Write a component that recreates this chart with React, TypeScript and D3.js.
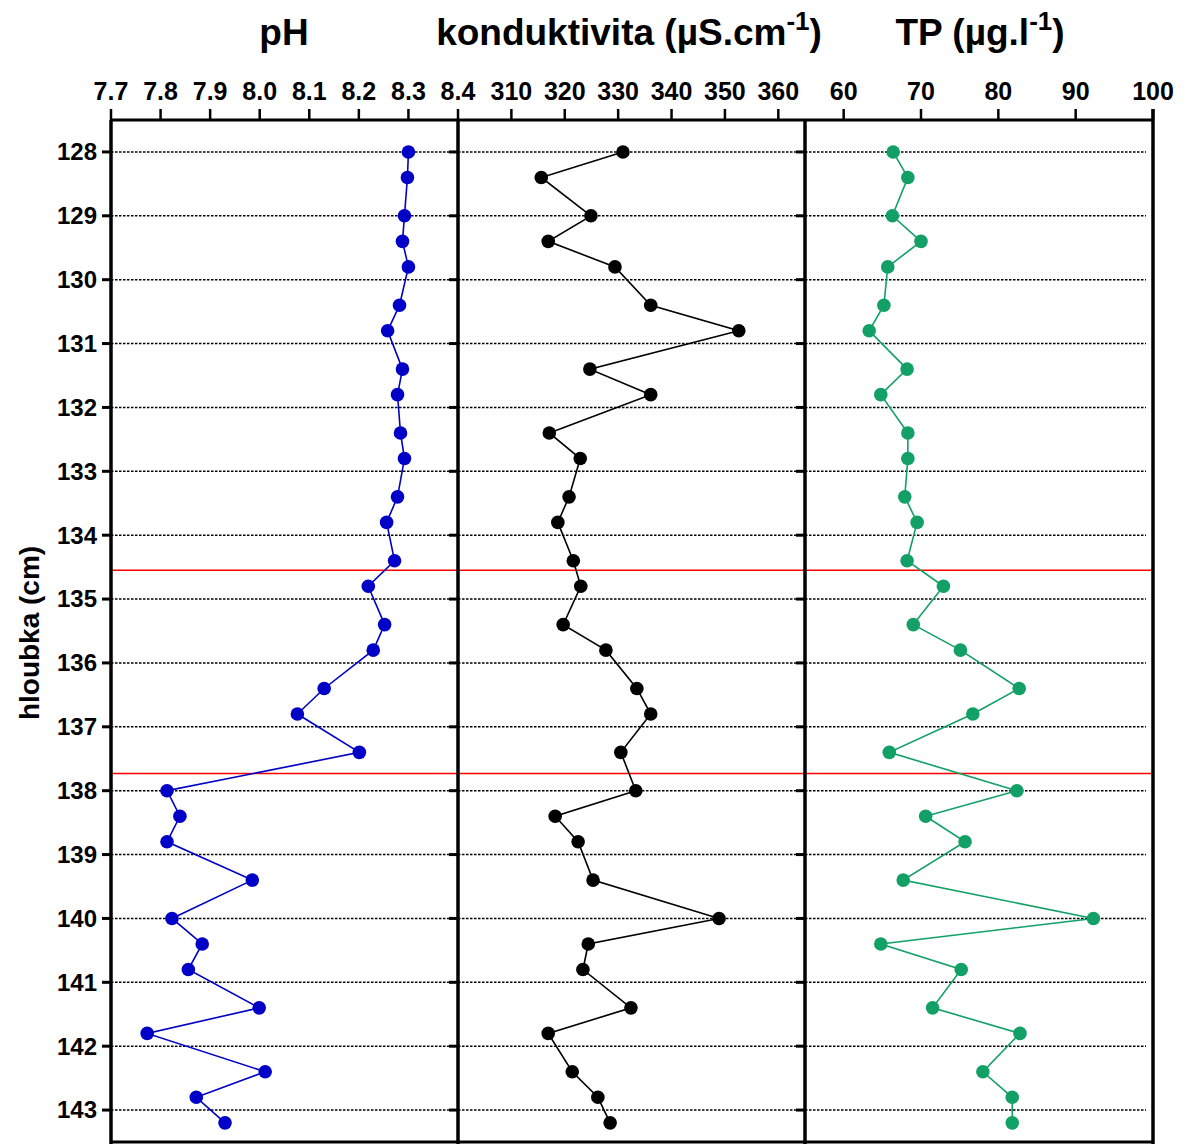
import React from 'react'
import * as d3 from 'd3'

// depth of each sample (cm)
const depths = [
  128, 128.4, 129, 129.4, 129.8, 130.4, 130.8, 131.4, 131.8, 132.4, 132.8, 133.4,
  133.8, 134.4, 134.8, 135.4, 135.8, 136.4, 136.8, 137.4, 138, 138.4, 138.8, 139.4,
  140, 140.4, 140.8, 141.4, 141.8, 142.4, 142.8, 143.2,
]

const phValues = [
  8.3, 8.298, 8.292, 8.288, 8.3, 8.282, 8.258, 8.288, 8.278, 8.284, 8.292, 8.278,
  8.256, 8.272, 8.219, 8.252, 8.229, 8.13, 8.076, 8.201, 7.813, 7.839, 7.813, 7.985,
  7.823, 7.884, 7.856, 7.999, 7.773, 8.011, 7.872, 7.93,
]

const condValues = [
  330.9, 315.6, 324.9, 316.9, 329.4, 336.1, 352.6, 324.7, 336.1, 317.1, 322.9, 320.8,
  318.7, 321.6, 323.0, 319.7, 327.7, 333.5, 336.1, 330.5, 333.3, 318.2, 322.5, 325.3,
  348.9, 324.4, 323.4, 332.4, 316.9, 321.4, 326.2, 328.5,
]

const tpValues = [
  66.4, 68.3, 66.3, 70.0, 65.7, 65.2, 63.3, 68.2, 64.8, 68.3, 68.3, 67.9,
  69.5, 68.2, 72.9, 69.0, 75.1, 82.7, 76.7, 65.9, 82.4, 70.6, 75.7, 67.7,
  92.3, 64.8, 75.2, 71.5, 82.8, 78.0, 81.8, 81.8,
]

const depthTicks = [128, 129, 130, 131, 132, 133, 134, 135, 136, 137, 138, 139, 140, 141, 142, 143]
const phTicks = [7.7, 7.8, 7.9, 8.0, 8.1, 8.2, 8.3, 8.4]
const condTicks = [310, 320, 330, 340, 350, 360]
const tpTicks = [60, 70, 80, 90, 100]
const boundaryDepths = [134.55, 137.73]

const FONT = '"Liberation Sans", Arial, Helvetica, sans-serif'
const W = 1186
const H = 1144
const top = 120
const bottom = 1142

const y = d3.scaleLinear().domain([127.5, 143.5]).range([top, bottom])

const panels = [
  {
    key: 'ph',
    x: d3.scaleLinear().domain([7.7, 8.4]).range([111, 458]),
    values: phValues,
    ticks: phTicks,
    fmt: d3.format('.1f'),
    color: '#0000c6',
  },
  {
    key: 'cond',
    x: d3.scaleLinear().domain([300, 365]).range([458, 805]),
    values: condValues,
    ticks: condTicks,
    fmt: d3.format('d'),
    color: '#000000',
  },
  {
    key: 'tp',
    x: d3.scaleLinear().domain([55, 100]).range([805, 1153]),
    values: tpValues,
    ticks: tpTicks,
    fmt: d3.format('d'),
    color: '#12a066',
  },
]

const Panel = ({ p }: { p: (typeof panels)[number] }) => {
  const [x0, x1] = p.x.range()
  const line = d3
    .line<number>()
    .x((d) => p.x(d))
    .y((_, i) => y(depths[i]))
  return (
    <g>
      {/* dotted grid */}
      {depthTicks.map((t) => (
        <line
          key={t}
          x1={x0}
          x2={x1 - 7}
          y1={y(t)}
          y2={y(t)}
          stroke='#000'
          strokeWidth={1.4}
          strokeDasharray='2.5 1.5'
        />
      ))}
      {/* y ticks on left edge */}
      {depthTicks.map((t) => (
        <line key={'t' + t} x1={x0 - 9} x2={x0} y1={y(t)} y2={y(t)} stroke='#000' strokeWidth={3} />
      ))}
      <path d={line(p.values) || ''} fill='none' stroke={p.color} strokeWidth={1.6} />
      {p.values.map((v, i) => (
        <circle key={i} cx={p.x(v)} cy={y(depths[i])} r={6.8} fill={p.color} />
      ))}
      {/* top tick marks + labels */}
      {p.ticks.map((t) => (
        <g key={'x' + t}>
          <line x1={p.x(t)} x2={p.x(t)} y1={top} y2={top - 11} stroke='#000' strokeWidth={2.5} />
          <text
            x={p.x(t)}
            y={100}
            textAnchor='middle'
            fontFamily={FONT}
            fontWeight='bold'
            fontSize={25}
          >
            {p.fmt(t)}
          </text>
        </g>
      ))}
      <line x1={x0} x2={x0} y1={top} y2={H} stroke='#000' strokeWidth={3.5} />
    </g>
  )
}

const App = () => {
  return (
    <svg
      width={W}
      height={H}
      style={{ position: 'absolute', left: 0, top: 0, background: '#fff' }}
    >
      <rect width={W} height={H} fill='#fff' />
      {boundaryDepths.map((d) => (
        <line key={d} x1={111} x2={1153} y1={y(d)} y2={y(d)} stroke='#ff0000' strokeWidth={1.4} />
      ))}
      {panels.map((p) => (
        <Panel key={p.key} p={p} />
      ))}
      {/* frame */}
      <line x1={111} x2={1153} y1={top} y2={top} stroke='#000' strokeWidth={3} />
      <line x1={111} x2={1153} y1={bottom} y2={bottom} stroke='#000' strokeWidth={3} />
      <line x1={1153} x2={1153} y1={top - 11} y2={H} stroke='#000' strokeWidth={3.5} />

      {/* depth labels */}
      {depthTicks.map((t) => (
        <text
          key={t}
          x={97}
          y={y(t)}
          dy='0.35em'
          textAnchor='end'
          fontFamily={FONT}
          fontWeight='bold'
          fontSize={24}
        >
          {t}
        </text>
      ))}
      <text
        transform={`translate(39,${(top + bottom) / 2 + 2}) rotate(-90)`}
        textAnchor='middle'
        fontFamily={FONT}
        fontWeight='bold'
        fontSize={28}
      >
        hloubka (cm)
      </text>

      {/* titles */}
      <text x={284} y={45} textAnchor='middle' fontFamily={FONT} fontWeight='bold' fontSize={37}>
        pH
      </text>
      <text x={629} y={45} textAnchor='middle' fontFamily={FONT} fontWeight='bold' fontSize={37}>
        konduktivita (µS.cm
        <tspan fontSize={26} dy={-15}>
          -1
        </tspan>
        <tspan dy={15}>)</tspan>
      </text>
      <text x={980} y={45} textAnchor='middle' fontFamily={FONT} fontWeight='bold' fontSize={37}>
        TP (µg.l
        <tspan fontSize={26} dy={-15}>
          -1
        </tspan>
        <tspan dy={15}>)</tspan>
      </text>
    </svg>
  )
}

export default App
